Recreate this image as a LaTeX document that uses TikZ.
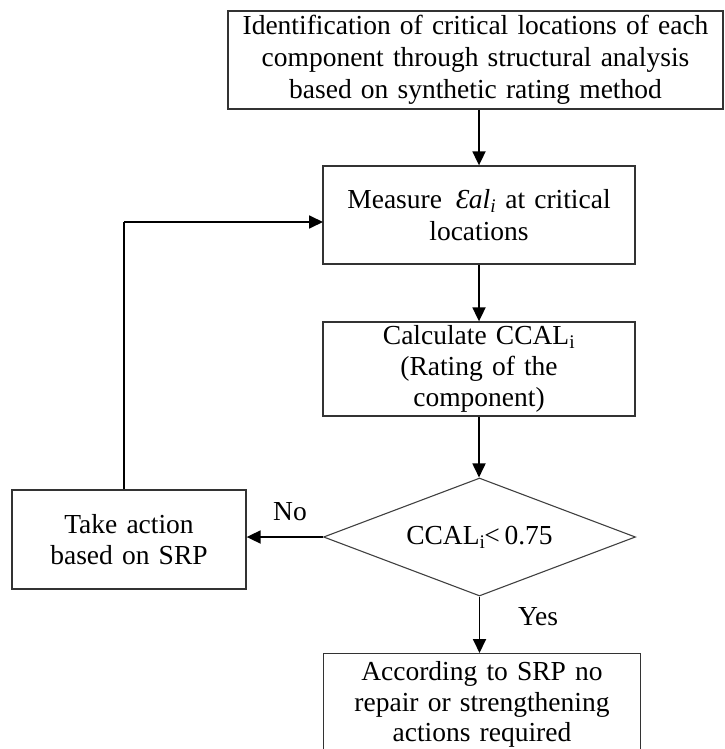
\documentclass[tikz,border=0pt]{standalone}
\usepackage{fontspec}
\setmainfont{Liberation Serif}
\usetikzlibrary{shapes.geometric,arrows.meta}
\begin{document}
\begin{tikzpicture}[x=1pt,y=-1pt,
  box/.style={draw=black!80,line width=1.3pt,rectangle,inner sep=2pt,align=center,
    font=\fontsize{27.5}{30.5}\selectfont},
  dec/.style={draw=black!75,line width=1.1pt,diamond,inner sep=0pt,aspect=2.64,
    minimum width=312pt,minimum height=118pt,font=\fontsize{27.5}{30.5}\selectfont},
  lbl/.style={font=\fontsize{27.5}{28}\selectfont,inner sep=0pt},
  arr/.style={line width=1.8pt,-{Triangle[length=14pt,width=13pt]}},
  lin/.style={line width=1.5pt}]
\useasboundingbox (0,0) rectangle (724,749);
\node[box,minimum width=495pt,minimum height=98pt,text width=490pt,
  font=\fontsize{27.5}{32}\selectfont] (ident) at (475.5,60)
  {Identification of critical locations of each\\component through structural analysis\\based on synthetic rating method};
\node[box,minimum width=312pt,minimum height=98pt,text width=300pt,
  font=\fontsize{27.5}{32}\selectfont] (meas) at (479,215)
  {Measure \,\textit{Ɛ}\kern-0.5pt\textit{al\textsubscript{i}} at critical\\locations};
\node[box,minimum width=312pt,minimum height=94pt,text width=300pt,
  font=\fontsize{27.5}{31}\selectfont] (calc) at (479,369)
  {Calculate CCAL\textsubscript{i}\\(Rating of the\\component)};
\node[dec] (dia) at (479.5,537) {CCAL\textsubscript{i}\kern-1pt<\,0.75};
\node[box,minimum width=234pt,minimum height=99pt,text width=225pt] (act) at (129,539.5)
  {Take action\\based on SRP};
\node[box,minimum width=317pt,minimum height=102pt,text width=310pt,anchor=north] (ok) at (482,653)
  {According to SRP no\\repair or strengthening\\actions required};
\coordinate (c1) at (124,222);
\coordinate (c2) at (323,222);
\draw[arr] (ident.south -| meas.north) -- (meas.north);
\draw[arr] (meas.south) -- (calc.north);
\draw[arr] (calc.south) -- (calc.south |- dia.north);
\draw[arr] (dia.west) -- (act.east |- dia.west);
\draw[arr] (dia.south) -- (dia.south |- ok.north);
\draw[lin] (act.north -| c1) -- (c1);
\draw[arr] (c1) -- (c2);
\node[lbl] (no) at (290,512) {No};
\node[lbl] (yes) at (538,617) {Yes};
\end{tikzpicture}
\end{document}
